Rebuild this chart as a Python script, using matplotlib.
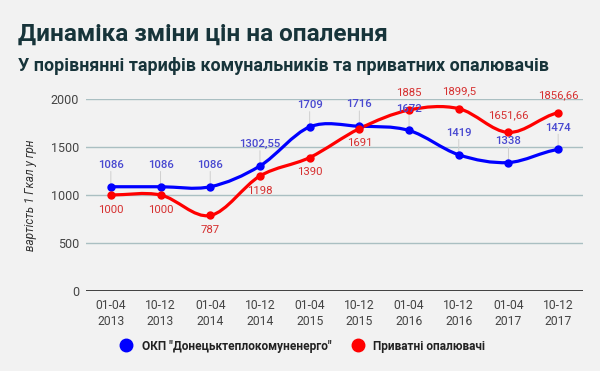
import matplotlib
matplotlib.use("Agg")
import matplotlib.pyplot as plt
from matplotlib.path import Path
from matplotlib.patches import PathPatch
from matplotlib.lines import Line2D

plt.rcParams["font.family"] = ["Roboto", "DejaVu Sans"]

# ======================
# Data
# ======================
periods = ["01-04\n2013", "10-12\n2013", "01-04\n2014", "10-12\n2014", "01-04\n2015",
           "10-12\n2015", "01-04\n2016", "10-12\n2016", "01-04\n2017", "10-12\n2017"]
okp_prices = [1086, 1086, 1086, 1302.55, 1709, 1716, 1672, 1419, 1338, 1474]
private_prices = [1000, 1000, 787, 1198, 1390, 1691, 1885, 1899.5, 1651.66, 1856.66]
okp_name = 'ОКП "Донецьктеплокомуненерго"'
private_name = "Приватні опалювачі"

BG = "#f2f2f2"
BLUE = "#0000ff"
RED = "#ff0000"


def smooth_path(xs, ys, k=1 / 6):
    # cubic bezier through the points (catmull-rom style)
    verts = [(xs[0], ys[0])]
    codes = [Path.MOVETO]
    n = len(xs)
    for i in range(n - 1):
        y_prev = ys[i - 1] if i > 0 else ys[i]
        y_next = ys[i + 2] if i + 2 < n else ys[i + 1]
        c1 = (xs[i] + 1 / 3, ys[i] + (ys[i + 1] - y_prev) * k)
        c2 = (xs[i + 1] - 1 / 3, ys[i + 1] - (y_next - ys[i]) * k)
        verts += [c1, c2, (xs[i + 1], ys[i + 1])]
        codes += [Path.CURVE4] * 3
    return Path(verts, codes)


def fmt(v):
    return f"{v:g}".replace(".", ",")


# ======================
# Figure
# ======================
fig = plt.figure(figsize=(6, 3.71), dpi=100, facecolor=BG)
ax = fig.add_axes([0.1433, 0.2156, 0.8284, 0.5176], facecolor=BG)

fig.text(0.03, 0.908, "Динаміка зміни цін на опалення", fontsize=17.5,
         fontweight="bold", color="#17343a", va="center")
fig.text(0.03, 0.822, "У порівнянні тарифів комунальників та приватних опалювачів",
         fontsize=12.9, fontweight="bold", color="#17343a", va="center")

x = list(range(len(periods)))

for ys, color in [(okp_prices, BLUE), (private_prices, RED)]:
    ax.add_patch(PathPatch(smooth_path(x, ys), fill=False, edgecolor=color,
                           lw=2.3, capstyle="round", zorder=3))
    ax.plot(x, ys, "o", color=color, ms=5, zorder=4)

# data labels with small stems
for i in x:
    b, r = okp_prices[i], private_prices[i]
    ax.annotate(fmt(b), (i, b), xytext=(0, 15.8), textcoords="offset points",
                ha="center", va="center", fontsize=8.2, fontweight="medium",
                color="#4848d0", zorder=5)
    ax.annotate("", (i, b), xytext=(0, 11), textcoords="offset points",
                arrowprops=dict(arrowstyle="-", color="#cfcfcf", lw=0.7,
                                shrinkA=0, shrinkB=0), zorder=2)
    if r > b:
        off = 12.5
    else:
        off = -10.5
    ax.annotate(fmt(r), (i, r), xytext=(0, off), textcoords="offset points",
                ha="center", va="center", fontsize=8.2, color="#d63030", zorder=5)

ax.set_xlim(-0.5, len(periods) - 0.5)
ax.set_ylim(0, 2000)
ax.set_yticks([0, 500, 1000, 1500, 2000])
ax.set_xticks(x)
ax.set_xticklabels(periods, fontsize=8.7, color="#444444", linespacing=1.25)
ax.tick_params(axis="y", labelsize=9, colors="#444444", length=0, pad=5)
ax.tick_params(axis="x", length=0, pad=6)
for s in ax.spines.values():
    s.set_visible(False)
ax.grid(axis="y", color="#aabfc2", lw=1)
ax.axhline(0, color="#333333", lw=1.3, zorder=2)
ax.set_ylabel("вартість 1 Гкал у грн", fontsize=8.5, style="italic",
              color="#333333", labelpad=10)

# legend
handles = [Line2D([], [], marker="o", ls="none", color=BLUE, ms=9),
           Line2D([], [], marker="o", ls="none", color=RED, ms=9)]
fig.legend(handles, [okp_name, private_name], loc="center",
           bbox_to_anchor=(0.5, 0.067), ncol=2, frameon=False,
           prop={"size": 8.6, "weight": "bold"}, handletextpad=0.3,
           columnspacing=1.2, labelcolor="#222222")

fig.savefig("out.png", dpi=100, facecolor=BG)
